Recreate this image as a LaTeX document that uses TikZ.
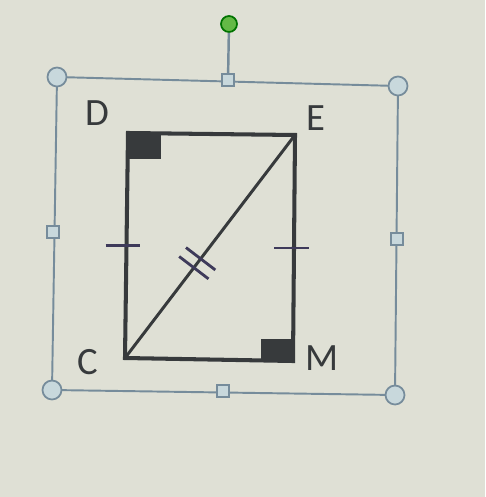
\documentclass[tikz,border=0pt]{standalone}
\usepackage{fontspec}
\setmainfont{Carlito}
\usetikzlibrary{calc}

\definecolor{screen}{RGB}{223,224,213}
\definecolor{ink}{RGB}{55,58,60}
\definecolor{tickink}{RGB}{62,58,90}
\definecolor{frameline}{RGB}{118,140,155}
\definecolor{handlefill}{RGB}{200,216,220}
\definecolor{rotfill}{RGB}{100,185,70}

\begin{document}
\begin{tikzpicture}[x=0.02cm, y=-0.02cm,
    side/.style={ink, line width=2.3pt, line join=miter},
    diag/.style={ink, line width=1.7pt},
    tick/.style={tickink, line width=1.6pt},
    rightangle/.style={fill=ink, draw=none},
    letter/.style={ink, font=\fontsize{22}{26}\selectfont, inner sep=0pt},
    corner/.style={circle, draw=frameline, fill=handlefill, line width=1pt, minimum size=19*0.02cm, inner sep=0pt},
    midhandle/.style={rectangle, draw=frameline, fill=handlefill, line width=1pt, minimum size=12*0.02cm, inner sep=0pt},
    rotate handle/.style={circle, draw=green!45!black, fill=rotfill, line width=1pt, minimum size=16*0.02cm, inner sep=0pt}]
    \useasboundingbox[fill=screen] (0,0) rectangle (485,497);

    % Cadre de sélection
    \coordinate (tl) at (57,77);
    \coordinate (tr) at (398,86);
    \coordinate (br) at (395,395);
    \coordinate (bl) at (52,390);
    \draw[frameline, line width=1.1pt] (tl) -- (tr) -- (br) -- (bl) -- cycle;
    \node[midhandle] (hT) at (228,80) {};
    \node[rotate handle] (hRot) at (229,24) {};
    \draw[frameline, line width=1.4pt] (hRot) -- (hT);
    \node[midhandle] (hR) at (397,239) {};
    \node[midhandle] (hB) at (223,391) {};
    \node[midhandle] (hL) at (53,232) {};
    \node[corner] (hTL) at (tl) {};
    \node[corner] (hTR) at (tr) {};
    \node[corner] (hBR) at (br) {};
    \node[corner] (hBL) at (bl) {};

    % Rectangle CDEM
    \coordinate (D) at (128,133);
    \coordinate (E) at (295,135);
    \coordinate (M) at (293,361);
    \coordinate (C) at (125,358);
    \fill[rightangle] (D) rectangle (161,159);
    \fill[rightangle] (261,339) rectangle (M);
    \draw[side] (D) -- (E) -- (M) -- (C) -- cycle;
    \draw[diag] (C) -- (E);

    % Marques
    \draw[tick] ($(D)!0.5!(C) + (-21,0)$) -- ($(D)!0.5!(C) + (13,0)$);
    \draw[tick] ($(E)!0.5!(M) + (-20,0)$) -- ($(E)!0.5!(M) + (15,0)$);
    \coordinate (t1) at ($(C)!0.405!(E)$);
    \coordinate (t2) at ($(C)!0.445!(E)$);
    \draw[tick] ($(t1)!10.5pt!90:(E)$) -- ($(t1)!10.5pt!-90:(E)$);
    \draw[tick] ($(t2)!10.5pt!90:(E)$) -- ($(t2)!10.5pt!-90:(E)$);

    % Lettres
    \node[letter] (lD) at (97,113) {D};
    \node[letter] (lE) at (316,118) {E};
    \node[letter] (lC) at (88,362) {C};
    \node[letter] (lM) at (322,358) {M};
\end{tikzpicture}
\end{document}
